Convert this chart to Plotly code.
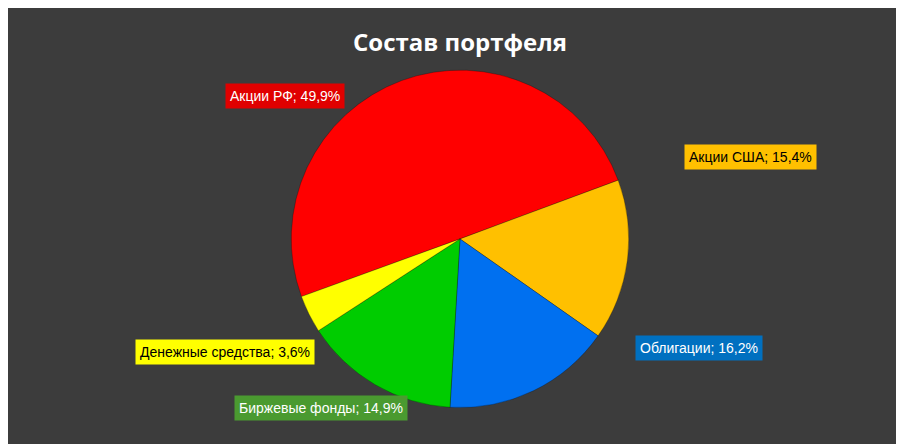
import plotly.graph_objects as go

labels = ["Акции РФ", "Акции США", "Облигации", "Биржевые фонды", "Денежные средства"]
values = [49.9, 15.4, 16.2, 14.9, 3.6]
colors = ["#ff0000", "#ffc000", "#0070f0", "#00cc00", "#ffff00"]
label_bg = ["#e00000", "#ffc000", "#0070c0", "#4a9a30", "#ffff00"]
label_fg = ["white", "black", "white", "white", "black"]
label_pos = [(0.24, 0.83), (0.895, 0.665), (0.835, 0.205), (0.25, 0.07), (0.14, 0.195)]

fig = go.Figure(go.Pie(
    labels=labels, values=values, sort=False, direction="clockwise", rotation=250,
    marker=dict(colors=colors, line=dict(color="rgba(0,0,0,0.25)", width=1)),
    textinfo="none", hoverinfo="label+percent", showlegend=False,
    domain=dict(x=[0.2, 0.8], y=[0.1, 0.86]),
))

for lab, v, bg, fg, (x, y) in zip(labels, values, label_bg, label_fg, label_pos):
    fig.add_annotation(
        x=x, y=y, xref="paper", yref="paper", showarrow=False,
        text=f"{lab}; {str(v).replace('.', ',')}%",
        font=dict(family="Liberation Sans, Arial", size=14, color=fg),
        bgcolor=bg, borderpad=4,
    )

fig.update_layout(
    width=904, height=444,
    margin=dict(l=0, r=0, t=0, b=0),
    paper_bgcolor="#3c3c3c", plot_bgcolor="#3c3c3c",
    title=dict(text="<b>Состав портфеля</b>", x=0.5, y=0.94, xanchor="center",
               font=dict(family="Open Sans, Arial", size=24, color="white")),
)

fig.write_html("out.html")
